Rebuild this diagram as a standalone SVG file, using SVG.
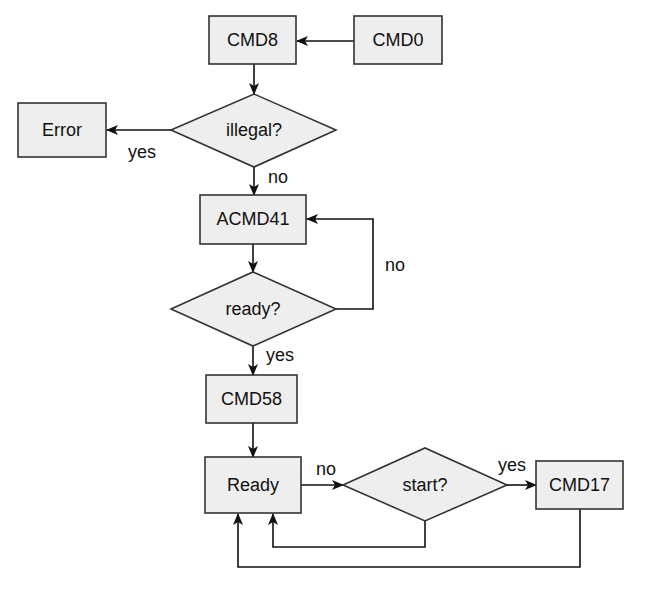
<svg xmlns="http://www.w3.org/2000/svg" width="655" height="595" viewBox="0 0 655 595">
<style>
.n{fill:#eeeeee;stroke:#333;stroke-width:1.6}
.c{fill:none;stroke:#111;stroke-width:1.6}
text{font-family:"Liberation Sans",Arial,sans-serif;font-size:18px;fill:#111}
.m{text-anchor:middle;dominant-baseline:central}
</style>
<defs>
<marker id="a" viewBox="0 0 12 10" refX="11" refY="5" markerWidth="12" markerHeight="10" markerUnits="userSpaceOnUse" orient="auto">
<path d="M0,0 L12,5 L0,10 L3,5 Z" fill="#111"/>
</marker>
</defs>
<rect width="655" height="595" fill="#fff"/>
<g id="connectors">
<path class="c" d="M354,41 H297" marker-end="url(#a)"/>
<path class="c" d="M254,64 V94" marker-end="url(#a)"/>
<path class="c" d="M171,130 H107" marker-end="url(#a)"/>
<path class="c" d="M254,167 V195" marker-end="url(#a)"/>
<path class="c" d="M253,244 V272" marker-end="url(#a)"/>
<path class="c" d="M336,309 H373 V219 H307" marker-end="url(#a)"/>
<path class="c" d="M253,346 V375" marker-end="url(#a)"/>
<path class="c" d="M253,423 V457" marker-end="url(#a)"/>
<path class="c" d="M301,485 H343" marker-end="url(#a)"/>
<path class="c" d="M507,485 H536" marker-end="url(#a)"/>
<path class="c" d="M425,521 V547 H273 V514" marker-end="url(#a)"/>
<path class="c" d="M580,509 V567 H238 V514" marker-end="url(#a)"/>
<text x="128" y="158">yes</text>
<text x="268" y="183">no</text>
<text x="385" y="271">no</text>
<text x="266" y="361">yes</text>
<text x="316" y="475">no</text>
<text x="498" y="471">yes</text>
</g>
<g id="cmd8"><rect class="n" x="209" y="16" width="87" height="48"/><text class="m" x="252.5" y="40">CMD8</text></g>
<g id="cmd0"><rect class="n" x="354" y="16" width="88" height="48"/><text class="m" x="398" y="40">CMD0</text></g>
<g id="error"><rect class="n" x="18" y="103" width="88" height="54"/><text class="m" x="62" y="130">Error</text></g>
<g id="illegal"><polygon class="n" points="171,130 254,94 336,130 254,167"/><text class="m" x="254" y="130">illegal?</text></g>
<g id="acmd41"><rect class="n" x="200" y="195" width="106" height="49"/><text class="m" x="253" y="219">ACMD41</text></g>
<g id="ready-q"><polygon class="n" points="171,309 253,272 336,309 253,346"/><text class="m" x="253" y="309">ready?</text></g>
<g id="cmd58"><rect class="n" x="206" y="375" width="91" height="48"/><text class="m" x="251.5" y="399">CMD58</text></g>
<g id="ready"><rect class="n" x="205" y="457" width="96" height="56"/><text class="m" x="253" y="485">Ready</text></g>
<g id="start"><polygon class="n" points="343,485 425,448 507,485 425,521"/><text class="m" x="425" y="485">start?</text></g>
<g id="cmd17"><rect class="n" x="536" y="461" width="87" height="48"/><text class="m" x="579.5" y="485">CMD17</text></g>
</svg>
